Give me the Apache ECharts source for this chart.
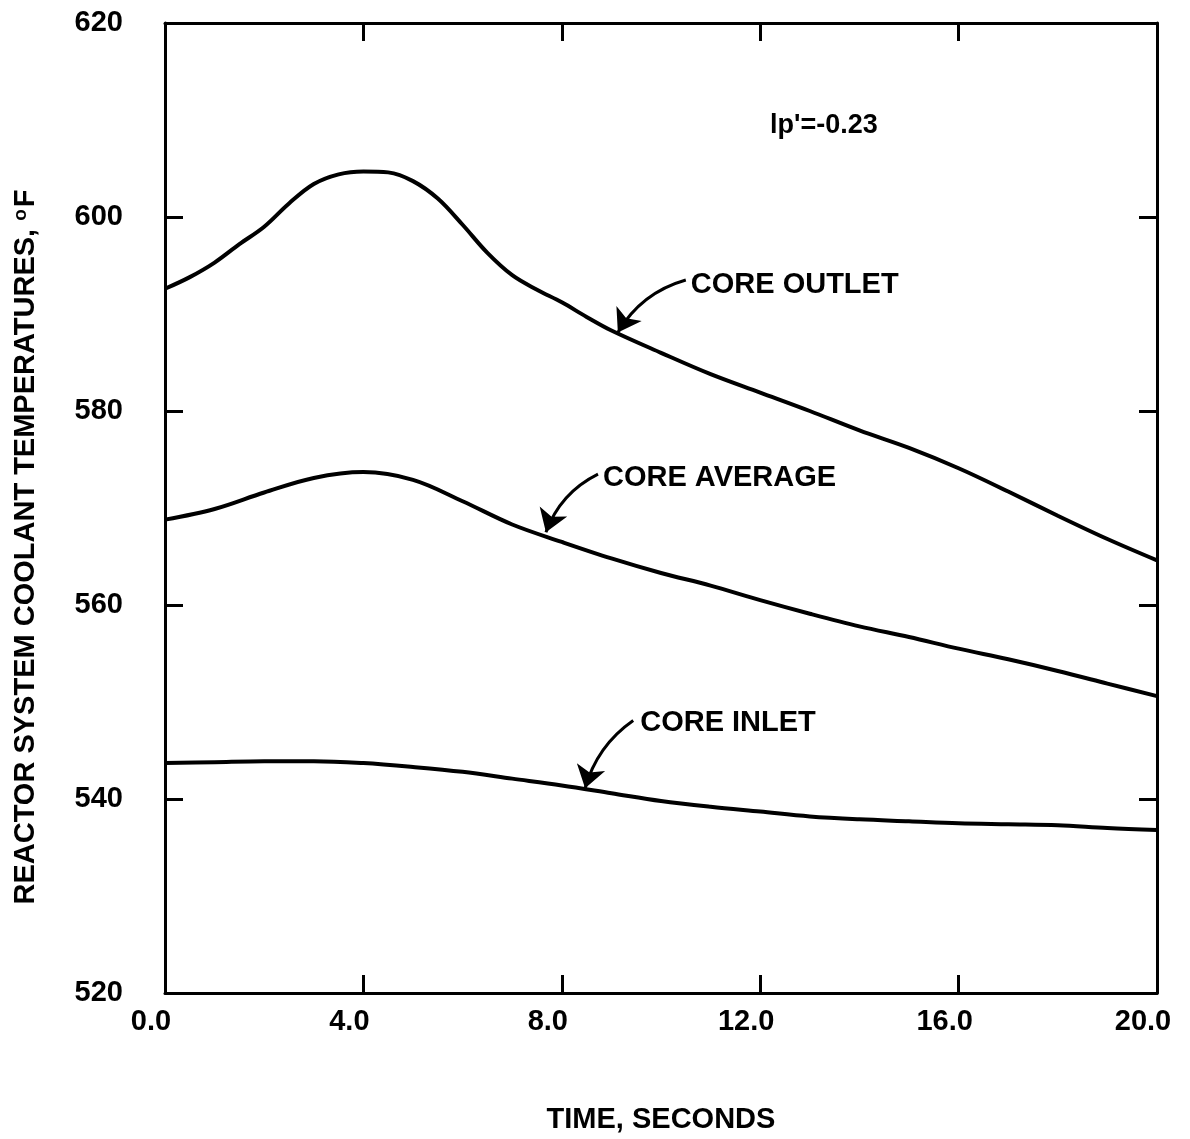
<!DOCTYPE html>
<html>
<head>
<meta charset="utf-8">
<script src="https://cdn.jsdelivr.net/npm/echarts@6/dist/echarts.min.js"></script>
<style>
html, body { margin: 0; background: #fff; }
#main { width: 1190px; height: 1139px; }
</style>
</head>
<body>
<div id="main"></div>
<script>
// time in seconds, temperatures in deg F
var outletTime = [0, 0.5, 1, 1.5, 2, 2.5, 3, 3.5, 4, 4.5, 5, 5.5, 6, 6.5, 7, 7.5, 8, 8.5, 9, 10, 11, 12, 13, 14, 15, 16, 17, 18, 19, 20];
var outletTemp = [592.6, 593.8, 595.3, 597.2, 599.0, 601.4, 603.4, 604.4, 604.7, 604.6, 603.7, 601.9, 599.2, 596.3, 594.0, 592.5, 591.2, 589.7, 588.3, 586.0, 583.8, 581.9, 580.0, 578.0, 576.2, 574.1, 571.7, 569.2, 566.8, 564.6];

var averageTime = [0, 1, 2, 3, 4, 5, 6, 7, 8, 9, 10, 11, 12, 13, 14, 15, 16, 17, 18, 19, 20];
var averageTemp = [568.8, 569.9, 571.6, 573.1, 573.7, 572.9, 570.7, 568.3, 566.5, 564.8, 563.3, 562.0, 560.5, 559.1, 557.8, 556.7, 555.5, 554.4, 553.2, 551.9, 550.6];

var inletTime = [0, 1, 2, 3, 4, 5, 6, 7, 8, 9, 10, 11, 12, 13, 14, 15, 16, 17, 18, 19, 20];
var inletTemp = [543.7, 543.8, 543.9, 543.9, 543.7, 543.3, 542.8, 542.1, 541.4, 540.6, 539.8, 539.2, 538.7, 538.2, 537.9, 537.7, 537.5, 537.4, 537.3, 537.0, 536.8];

// arrow pointers [tail, tip] in data units
var outletArrow = [[10.5, 593.5], [9.13, 588.1]];
var averageArrow = [[8.73, 573.5], [7.68, 567.5]];
var inletArrow = [[9.44, 548.1], [8.47, 541.1]];

var font = '"Liberation Sans", Arial, sans-serif';

function pairs(xs, ys) {
	return xs.map(function (x, i) { return [x, ys[i]]; });
}

function curve(name, xs, ys) {
	return {
		name: name,
		type: 'line',
		smooth: 0.35,
		symbol: 'none',
		lineStyle: { color: '#000', width: 4 },
		data: pairs(xs, ys)
	};
}

function arrow(p, curv) {
	return {
		type: 'lines',
		coordinateSystem: 'cartesian2d',
		silent: true,
		symbol: ['none', 'arrow'],
		symbolSize: [11, 22],
		lineStyle: { color: '#000', width: 3, opacity: 1, curveness: curv },
		data: [{ coords: [p[0], p[1]] }]
	};
}

var tickStyle = { show: true, inside: true, length: 18, lineStyle: { color: '#000', width: 3 } };
var lineStyle = { show: true, onZero: false, lineStyle: { color: '#000', width: 3 } };
var labelText = { color: '#000', fontFamily: font, fontWeight: 'bold', fontSize: 29 };

var option = {
	animation: false,
	backgroundColor: '#fff',
	grid: { left: 165, right: 33, top: 23, bottom: 137 },
	xAxis: [{
		type: 'value',
		min: 0,
		max: 20,
		interval: 4,
		position: 'bottom',
		name: 'TIME, SECONDS',
		nameLocation: 'middle',
		nameGap: 112,
		nameTextStyle: labelText,
		axisLine: lineStyle,
		axisTick: tickStyle,
		splitLine: { show: false },
		axisLabel: Object.assign({
			margin: 14,
			padding: [0, 28, 0, 0],
			formatter: function (v) { return v.toFixed(1); }
		}, labelText)
	}, {
		type: 'value',
		min: 0,
		max: 20,
		interval: 4,
		position: 'top',
		axisLine: lineStyle,
		axisTick: tickStyle,
		axisLabel: { show: false },
		splitLine: { show: false }
	}],
	yAxis: [{
		type: 'value',
		min: 520,
		max: 620,
		interval: 20,
		position: 'left',
		name: '{t|REACTOR SYSTEM COOLANT TEMPERATURES, }{s|o}{t|F}',
		nameLocation: 'middle',
		nameGap: 125,
		nameTextStyle: Object.assign({
			padding: [0, 78, 0, 0],
			rich: {
				t: { color: '#000', fontFamily: font, fontWeight: 'bold', fontSize: 29 },
				s: { color: '#000', fontFamily: font, fontWeight: 'bold', fontSize: 19, verticalAlign: 'top', padding: [0, 2, 0, 0] }
			}
		}, labelText),
		axisLine: lineStyle,
		axisTick: tickStyle,
		splitLine: { show: false },
		axisLabel: Object.assign({ margin: 42 }, labelText)
	}, {
		type: 'value',
		min: 520,
		max: 620,
		interval: 20,
		position: 'right',
		axisLine: lineStyle,
		axisTick: tickStyle,
		axisLabel: { show: false },
		splitLine: { show: false }
	}],
	series: [
		curve('CORE OUTLET', outletTime, outletTemp),
		curve('CORE AVERAGE', averageTime, averageTemp),
		curve('CORE INLET', inletTime, inletTemp),
		arrow(outletArrow, -0.2),
		arrow(averageArrow, -0.2),
		arrow(inletArrow, -0.18)
	]
};

var chart = echarts.init(document.getElementById('main'), null, { renderer: 'canvas' });
chart.setOption(option);

// text annotations placed next to the arrow tails
function note(text, at, dx, dy, size) {
	var p = chart.convertToPixel({ xAxisIndex: 0, yAxisIndex: 0 }, at);
	return {
		type: 'text',
		x: p[0] + dx,
		y: p[1] + dy,
		style: {
			text: text,
			fill: '#000',
			font: 'bold ' + (size || 29) + 'px ' + font,
			textVerticalAlign: 'middle'
		}
	};
}

chart.setOption({
	graphic: [
		note('CORE OUTLET', outletArrow[0], 5, 5),
		note('CORE AVERAGE', averageArrow[0], 5, 4),
		note('CORE INLET', inletArrow[0], 7, 3),
		note("lp'=-0.23", [12.2, 609.4], 0, 0, 27)
	]
});
</script>
</body>
</html>
